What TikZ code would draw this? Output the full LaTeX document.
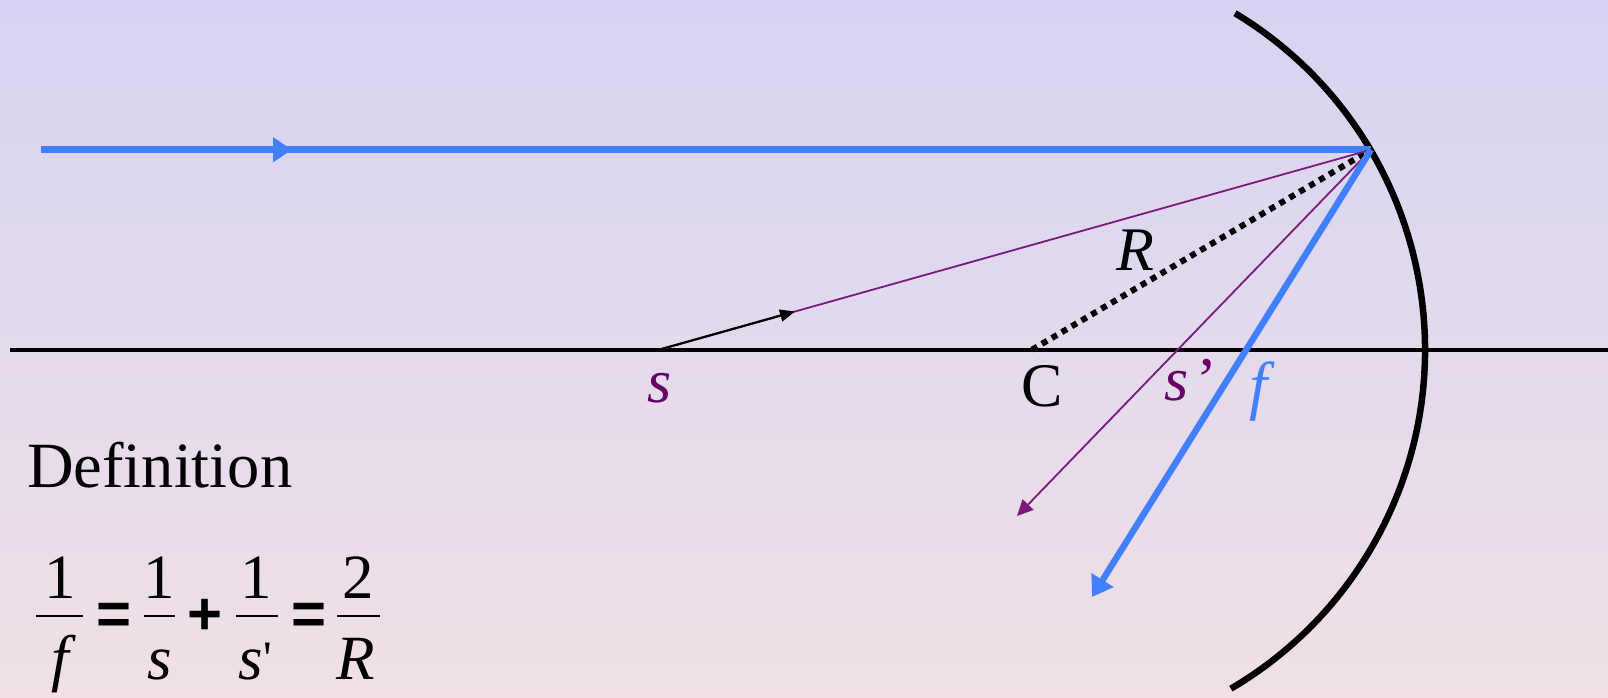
\documentclass[tikz,border=0pt]{standalone}
\usepackage{fontspec}
\setmainfont{Liberation Serif}
\newfontfamily\sansf{Liberation Sans}
\usetikzlibrary{arrows.meta}
\definecolor{bgtop}{RGB}{214,212,242}
\definecolor{bgbot}{RGB}{240,224,230}
\definecolor{rayblue}{RGB}{64,128,255}
\definecolor{raypurple}{RGB}{125,25,125}
\definecolor{labpurple}{RGB}{102,0,102}
\begin{document}
\begin{tikzpicture}[x=1pt,y=-1pt,
  lab/.style={inner sep=0pt, font=\fontsize{62}{70}\selectfont},
  eqn/.style={inner sep=0pt, anchor=base, font=\fontsize{63}{70}\selectfont},
  opsym/.style={inner sep=0pt, font=\sansf\bfseries\fontsize{60}{66}\selectfont},
  blueray/.style={draw=rayblue, line width=6.5pt},
  purpleray/.style={draw=raypurple, line width=1.8pt},
  fracbar/.style={draw=black, line width=2.8pt},
  mirror/.style={draw=black, line width=6.5pt},
  axisline/.style={draw=black, line width=4pt},
  radius line/.style={draw=black, line width=6pt, dash pattern=on 6pt off 5.5pt}]
\useasboundingbox (0,0) rectangle (1608,697);
\shade[top color=bgtop, bottom color=bgbot] (0,0) rectangle (1608,697);

% key points
\coordinate (P) at (1371,149.7);
\coordinate (Cc) at (1032,349.7);
\coordinate (S) at (659,349.7);
\coordinate (Sarr) at (795,311.5);
\coordinate (Ain) at (41,149.7);
\coordinate (Ainarr) at (292,149.7);
\coordinate (Bend) at (1092,597);
\coordinate (Pend) at (1017,516);
\coordinate (AxL) at (10,349.7);
\coordinate (AxR) at (1608,349.7);

% optical axis
\draw[axisline] (AxL) -- (AxR);

% mirror
\draw[mirror] (Cc) ++(-58.9:393) arc[start angle=-58.9, end angle=59.6, radius=393];

% radius (dotted)
\draw[radius line] (Cc) -- (P);

% incoming blue ray
\draw[blueray] (Ain) -- (P);
\draw[blueray, -{Triangle[length=19pt,width=24pt]}] (Ain) -- (Ainarr);

% purple ray from s
\draw[purpleray] (S) -- (P);
\draw[draw=black, line width=2.2pt, -{Triangle[length=15pt,width=12pt]}] (S) -- (Sarr);

% reflected rays
\draw[purpleray, -{Triangle[length=16pt,width=15pt]}] (P) -- (Pend);
\draw[blueray, -{Triangle[length=20pt,width=25pt]}] (P) -- (Bend);

% labels
\node[lab, text=labpurple] (slab) at (660,388) {\itshape s};
\node[lab] (Clab) at (1042,386) {C};
\node[lab, text=labpurple, anchor=base west] (splab) at (1164,400) {\itshape s\hspace{8pt}\upshape ’};
\node[lab, text=rayblue, font=\fontsize{65}{70}\selectfont] (flab) at (1259,392) {\itshape f};
\node[lab] (Rlab) at (1135,250) {\itshape R};

% definition
\node[lab, anchor=base west, font=\fontsize{64.5}{70}\selectfont] (deflab) at (27,487) {Definition};

% equation
\node[eqn] (n1) at (60,598) {1};
\node[eqn] (d1) at (60,679) {\itshape f};
\draw[fracbar] (36,616) coordinate (b1l) -- (83,616) coordinate (b1r);
\node[opsym] (eq1) at (114,619) {=};
\node[eqn] (n2) at (159,598) {1};
\node[eqn] (d2) at (160,679) {\itshape s};
\draw[fracbar] (144,616) coordinate (b2l) -- (175,616) coordinate (b2r);
\node[opsym] (plus) at (205,617) {+};
\node[eqn] (n3) at (256,598) {1};
\node[eqn, anchor=base west] (d3) at (238,679) {\itshape s\upshape\hspace{1pt}\raisebox{5pt}{\fontsize{48}{50}\selectfont\textquotesingle}};
\draw[fracbar] (236,616) coordinate (b3l) -- (278,616) coordinate (b3r);
\node[opsym] (eq2) at (309,619) {=};
\node[eqn] (n4) at (358,598) {2};
\node[eqn] (d4) at (356,679) {\itshape R};
\draw[fracbar] (337,616) coordinate (b4l) -- (380,616) coordinate (b4r);
\end{tikzpicture}
\end{document}
